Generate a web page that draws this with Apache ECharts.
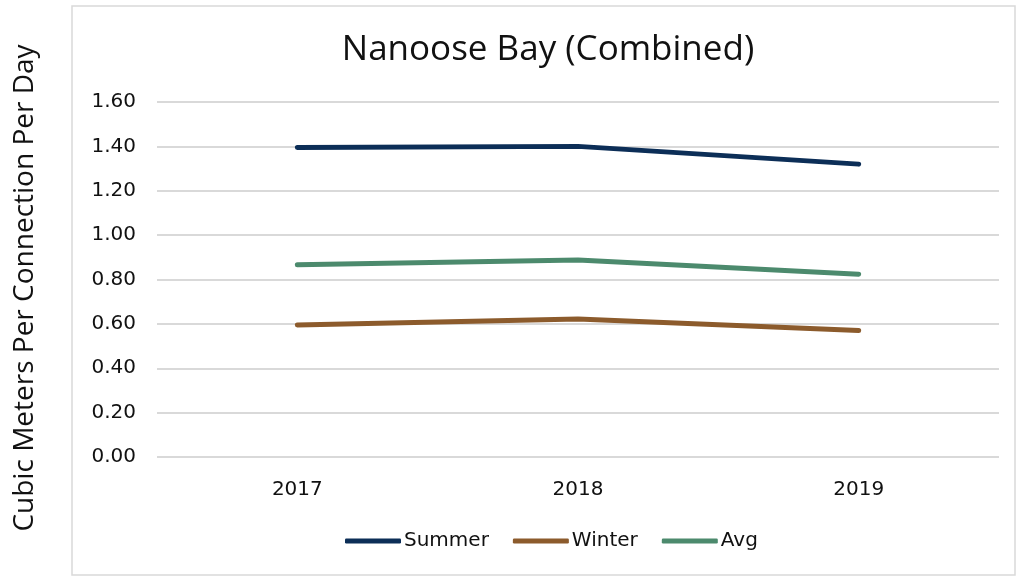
<!DOCTYPE html>
<html>
<head>
<meta charset="utf-8">
<script src="https://cdn.jsdelivr.net/npm/echarts@6/dist/echarts.min.js"></script>
<style>
  html, body { margin: 0; padding: 0; background: #fff; }
  #mainChart { width: 1018px; height: 577px; }
</style>
</head>
<body>
<div id="mainChart"></div>
<script>
'use strict'
var years = ['2017', '2018', '2019'];
var summer = [1.395, 1.40, 1.32];
var winter = [0.595, 0.622, 0.57];
var avg = [0.866, 0.888, 0.824];
var yTicks = { min: 0, max: 1.6, step: 0.2 };

var font = 'DejaVu Sans, sans-serif';

var myChart = echarts.init(document.getElementById('mainChart'));
myChart.setOption({
    animation: false,
    title: {
        text: 'Nanoose Bay (Combined)',
        left: 543,
        top: 28,
        textAlign: 'center',
        textStyle: { fontFamily: 'Open Sans', fontWeight: 'normal', fontSize: 35, color: '#111' }
    },
    graphic: [{
        type: 'rect',
        shape: { x: 72, y: 6, width: 943, height: 569 },
        style: { fill: 'none', stroke: '#d9d9d9', lineWidth: 1.5 },
        silent: true
    }, {
        type: 'text',
        x: 25,
        y: 288,
        rotation: Math.PI / 2,
        style: {
            text: 'Cubic Meters Per Connection Per Day',
            fontFamily: 'Open Sans',
            fontSize: 28,
            fill: '#111',
            align: 'center',
            verticalAlign: 'middle'
        },
        silent: true
    }],
    legend: {
        bottom: 21,
        left: 340,
        itemWidth: 56,
        itemHeight: 5,
        itemGap: 24,
        icon: 'roundRect',
        textStyle: { fontFamily: font, fontSize: 20, color: '#111', padding: [0, 0, 0, -2] },
        data: ['Summer', 'Winter', 'Avg']
    },
    grid: { left: 157, right: 19, top: 102, bottom: 120 },
    xAxis: {
        type: 'category',
        data: years,
        axisLine: { show: false },
        axisTick: { show: false },
        axisLabel: { fontFamily: font, fontSize: 20, color: '#111', margin: 23 }
    },
    yAxis: {
        type: 'value',
        min: yTicks.min,
        max: yTicks.max,
        interval: yTicks.step,
        axisLabel: {
            fontFamily: font, fontSize: 20, color: '#111', margin: 21,
            formatter: function (v) { return v.toFixed(2); }
        },
        splitLine: { lineStyle: { color: '#d9d9d9', width: 2 } }
    },
    series: [
        { name: 'Summer', type: 'line', data: summer, symbol: 'none',
          lineStyle: { width: 5, color: '#0c2e57', cap: 'round' }, itemStyle: { color: '#0c2e57' } },
        { name: 'Winter', type: 'line', data: winter, symbol: 'none',
          lineStyle: { width: 5, color: '#8c5b2c', cap: 'round' }, itemStyle: { color: '#8c5b2c' } },
        { name: 'Avg', type: 'line', data: avg, symbol: 'none',
          lineStyle: { width: 5, color: '#4c8a6d', cap: 'round' }, itemStyle: { color: '#4c8a6d' } }
    ]
});
</script>
</body>
</html>
